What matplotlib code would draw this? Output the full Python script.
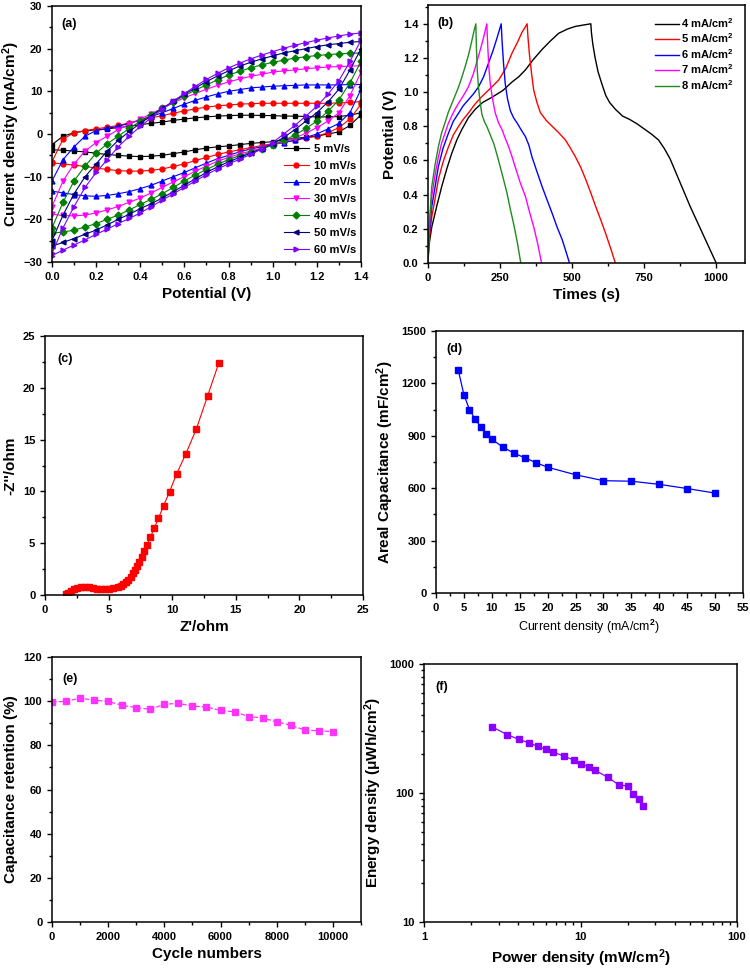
import numpy as np
import matplotlib
matplotlib.use("Agg")
import matplotlib.pyplot as plt
from matplotlib.ticker import MultipleLocator, AutoMinorLocator

plt.rcParams['font.family'] = ['Liberation Sans', 'DejaVu Sans']
plt.rcParams['font.weight'] = 'bold'
plt.rcParams['mathtext.fontset'] = 'custom'
plt.rcParams['mathtext.rm'] = 'Liberation Sans:bold'
plt.rcParams['mathtext.it'] = 'Liberation Sans:bold'
plt.rcParams['mathtext.bf'] = 'Liberation Sans:bold'
plt.rcParams['mathtext.default'] = 'rm'

# (a) CV curves, potential grid 0 -> 1.4 V step 0.05
cv_potential = [0.0, 0.05, 0.1, 0.15, 0.2, 0.25, 0.3, 0.35, 0.4, 0.45, 0.5, 0.55, 0.6, 0.65, 0.7,
                0.75, 0.8, 0.85, 0.9, 0.95, 1.0, 1.05, 1.1, 1.15, 1.2, 1.25, 1.3, 1.35, 1.4]
cv_labels = ["5 mV/s", "10 mV/s", "20 mV/s", "30 mV/s", "40 mV/s", "50 mV/s", "60 mV/s"]
cv_upper = [
    [-2.5, -0.5, 0.3, 0.7, 1.0, 1.2, 1.5, 1.8, 2.2, 2.5, 2.8, 3.2, 3.5, 3.8, 4.0,
     4.2, 4.3, 4.4, 4.4, 4.35, 4.3, 4.2, 4.2, 4.1, 4.0, 4.0, 4.1, 4.4, 5.0],
    [-6.5, -1.2, 0.3, 0.8, 1.2, 1.6, 2.0, 2.6, 3.2, 3.8, 4.3, 4.9, 5.4, 5.9, 6.3,
     6.6, 6.8, 7.0, 7.1, 7.2, 7.2, 7.2, 7.2, 7.2, 7.2, 7.2, 7.3, 7.4, 7.6],
    [-11, -6, -3, -0.5, 0.8, 1.3, 1.8, 2.5, 3.3, 4.1, 5.0, 6.0, 7.0, 7.9, 8.7,
     9.4, 10.0, 10.4, 10.8, 11.0, 11.2, 11.3, 11.4, 11.5, 11.5, 11.5, 11.5, 11.6, 11.6],
    [-17, -11, -7, -4, -2, -0.5, 1.0, 2.3, 3.5, 4.8, 6.0, 7.3, 8.5, 9.5, 10.5,
     11.4, 12.2, 12.9, 13.5, 14.0, 14.5, 14.8, 15.0, 15.3, 15.5, 15.7, 15.8, 15.9, 16.0],
    [-22, -16, -11, -7.5, -4.5, -2.3, -0.5, 1.3, 3.0, 4.5, 6.0, 7.5, 9.0, 10.3, 11.5,
     12.7, 13.8, 14.7, 15.5, 16.2, 16.8, 17.3, 17.8, 18.1, 18.4, 18.6, 18.8, 18.9, 19.0],
    [-25, -19, -14, -10, -7, -4, -1.5, 0.6, 2.5, 4.3, 6.0, 7.7, 9.3, 10.8, 12.3,
     13.6, 14.8, 15.9, 16.8, 17.6, 18.3, 19.0, 19.5, 20.0, 20.5, 20.9, 21.2, 21.5, 21.7],
    [-28, -22, -17, -12.5, -9, -6, -3, -0.5, 1.8, 3.8, 5.8, 7.7, 9.5, 11.2, 12.8,
     14.2, 15.5, 16.6, 17.6, 18.5, 19.3, 20.1, 20.8, 21.4, 22.0, 22.5, 23.0, 23.4, 23.7],
]
cv_lower = [
    [-3.7, -3.8, -4.0, -4.2, -4.5, -4.8, -5.0, -5.2, -5.3, -5.2, -5.0, -4.6, -4.2, -3.7, -3.3,
     -3.0, -2.8, -2.5, -2.2, -2.0, -1.8, -1.4, -1.0, -0.8, -0.5, 0.0, 0.5, 2.0, 4.5],
    [-6.8, -7.0, -7.3, -7.6, -8.0, -8.3, -8.6, -8.7, -8.7, -8.5, -8.2, -7.6, -7.0, -6.2, -5.5,
     -4.8, -4.2, -3.7, -3.2, -2.7, -2.3, -1.9, -1.5, -1.0, -0.5, 0.3, 1.5, 3.5, 7.0],
    [-13.4, -13.8, -14.2, -14.5, -14.6, -14.4, -14.0, -13.5, -12.8, -12.0, -11.0, -10.0, -9.0, -7.9, -6.8,
     -5.8, -5.0, -4.2, -3.5, -3.0, -2.5, -2.0, -1.5, -0.8, 0.0, 1.2, 2.5, 5.0, 10.5],
    [-18.8, -19.1, -19.2, -19.0, -18.5, -17.8, -17.0, -16.0, -15.0, -13.8, -12.5, -11.2, -10.0, -8.7, -7.5,
     -6.4, -5.5, -4.7, -4.0, -3.3, -2.6, -1.8, -1.0, 0.2, 1.5, 3.0, 5.0, 9.0, 14.5],
    [-23.2, -23.0, -22.5, -21.8, -21.0, -20.0, -19.0, -17.8, -16.5, -15.3, -14.0, -12.5, -11.0, -9.6, -8.3,
     -7.1, -6.0, -5.1, -4.3, -3.5, -2.6, -1.5, -0.3, 1.3, 3.0, 5.3, 8.0, 12.0, 17.0],
    [-26.3, -25.4, -24.5, -23.5, -22.5, -21.3, -20.0, -18.8, -17.5, -16.3, -15.0, -13.5, -12.0, -10.5, -9.0,
     -7.7, -6.5, -5.5, -4.5, -3.5, -2.3, -0.8, 1.0, 3.0, 5.0, 7.5, 10.5, 15.0, 20.0],
    [-28.5, -27.2, -26.0, -24.8, -23.5, -22.3, -21.0, -19.8, -18.5, -17.0, -15.5, -14.0, -12.5, -11.0, -9.5,
     -8.2, -7.0, -5.9, -4.8, -3.5, -2.0, 0.0, 2.0, 4.2, 6.5, 9.3, 12.5, 17.0, 22.0],
]
cv_colors = ['black', '#FF0000', '#0000FF', '#FF00FF', '#008000', '#000080', '#8000FF']
cv_markers = ['s', 'o', '^', 'v', 'D', '<', '>']

# (b) GCD curves
gcd_labels = ["4 mA/cm$^2$", "5 mA/cm$^2$", "6 mA/cm$^2$", "7 mA/cm$^2$", "8 mA/cm$^2$"]
gcd_colors = ['black', '#FF0000', '#0000FF', '#FF00FF', '#1E8C1E']
gcd_time = [
    [0, 3, 13, 30, 48, 65, 82, 100, 117, 140, 164, 190, 222, 260, 292, 315, 338, 365, 396, 425, 454,
     485, 512, 540, 565,
     567, 572, 580, 590, 603, 617, 630, 650, 675, 700, 725, 750, 775, 800, 820, 840, 860, 880,
     910, 940, 970, 1000],
    [0, 3, 13, 25, 36, 52, 71, 88, 106, 122, 140, 163, 187, 215, 245, 270, 292, 310, 326, 337, 344,
     347, 352, 360, 367, 378, 390, 410, 431, 455, 477, 495, 512, 530, 547, 565, 582, 600, 617, 635, 650],
    [0, 3, 13, 25, 36, 52, 71, 88, 106, 122, 140, 158, 175, 193, 210, 225, 240, 254,
     257, 262, 268, 276, 286, 297, 309, 323, 338, 350, 361, 378, 396, 413, 431, 448, 466, 480, 491],
    [0, 3, 13, 25, 36, 47, 59, 70, 82, 94, 106, 123, 140, 158, 175, 190, 204,
     207, 211, 216, 224, 233, 245, 257, 268, 280, 292, 303, 320, 338, 352, 367, 381, 394],
    [0, 3, 13, 25, 36, 47, 59, 70, 82, 94, 106, 118, 129, 141, 152, 160, 166,
     168, 171, 175, 181, 187, 195, 204, 216, 228, 240, 251, 262, 274, 285, 297, 310, 322],
]
gcd_volt = [
    [0.0, 0.1, 0.21, 0.33, 0.45, 0.55, 0.64, 0.72, 0.78, 0.85, 0.9, 0.94, 0.97, 1.01, 1.06, 1.09, 1.13,
     1.19, 1.25, 1.3, 1.345, 1.37, 1.385, 1.393, 1.4,
     1.35, 1.28, 1.2, 1.12, 1.05, 0.98, 0.94, 0.9, 0.86, 0.84, 0.815, 0.785, 0.755, 0.72, 0.67, 0.61,
     0.53, 0.45, 0.33, 0.22, 0.11, 0.0],
    [0.0, 0.12, 0.27, 0.38, 0.49, 0.59, 0.68, 0.75, 0.8, 0.84, 0.877, 0.93, 0.974, 1.02, 1.07, 1.14,
     1.23, 1.29, 1.35, 1.38, 1.4,
     1.32, 1.22, 1.1, 1.01, 0.94, 0.88, 0.835, 0.8, 0.76, 0.72, 0.67, 0.62, 0.56, 0.49, 0.41, 0.33,
     0.25, 0.17, 0.08, 0.0],
    [0.0, 0.14, 0.33, 0.45, 0.565, 0.67, 0.76, 0.83, 0.877, 0.92, 0.955, 0.99, 1.03, 1.09, 1.17, 1.24,
     1.32, 1.4,
     1.3, 1.17, 1.05, 0.96, 0.89, 0.85, 0.82, 0.78, 0.74, 0.69, 0.62, 0.535, 0.447, 0.37, 0.29, 0.21,
     0.135, 0.06, 0.0],
    [0.0, 0.16, 0.39, 0.52, 0.62, 0.7, 0.76, 0.815, 0.86, 0.9, 0.935, 0.98, 1.03, 1.11, 1.21, 1.3, 1.4,
     1.28, 1.15, 1.05, 0.96, 0.88, 0.82, 0.78, 0.73, 0.68, 0.62, 0.56, 0.47, 0.39, 0.3, 0.21, 0.11, 0.0],
    [0.0, 0.18, 0.447, 0.58, 0.68, 0.76, 0.82, 0.88, 0.93, 0.98, 1.03, 1.09, 1.15, 1.22, 1.3, 1.36, 1.4,
     1.26, 1.13, 1.03, 0.94, 0.87, 0.83, 0.8, 0.75, 0.7, 0.63, 0.56, 0.49, 0.41, 0.32, 0.23, 0.12, 0.0],
]

# (c) Nyquist
z_real = [1.68, 1.84, 2.02, 2.28, 2.55, 2.86, 3.18, 3.49, 3.8, 4.12, 4.44, 4.75, 5.07, 5.38, 5.7,
          5.96, 6.17, 6.38, 6.56, 6.75, 6.9, 7.06, 7.22, 7.4, 7.59, 7.8, 8.03, 8.29, 8.58, 8.92,
          9.32, 9.79, 10.34, 11.05, 11.89, 12.78, 13.65]
z_imag = [0.06, 0.23, 0.42, 0.61, 0.71, 0.77, 0.8, 0.77, 0.68, 0.58, 0.55, 0.58, 0.61, 0.68, 0.77,
          0.9, 1.06, 1.25, 1.48, 1.77, 2.09, 2.41, 2.8, 3.22, 3.7, 4.24, 4.82, 5.6, 6.43, 7.4,
          8.62, 9.97, 11.67, 13.57, 16.0, 19.2, 22.35]

# (d) areal capacitance
current_density = [4, 5, 6, 7, 8, 9, 10, 12, 14, 16, 18, 20, 25, 30, 35, 40, 45, 50]
areal_cap = [1275, 1135, 1050, 995, 953, 910, 880, 835, 800, 773, 745, 720, 677, 643, 640, 622, 598, 572]

# (e) cycling
cycles = [0, 500, 1000, 1500, 2000, 2500, 3000, 3500, 4000, 4500, 5000, 5500, 6000, 6500, 7000,
          7500, 8000, 8500, 9000, 9500, 10000]
retention = [99.6, 99.9, 101.4, 100.4, 99.9, 98.1, 97.1, 96.3, 98.6, 99.0, 97.8, 97.4, 95.8, 95.2, 93.0,
             92.4, 90.6, 89.1, 86.9, 86.6, 86.2]

# (f) Ragone
power_density = [2.72, 3.39, 4.05, 4.69, 5.32, 5.99, 6.67, 7.85, 9.04, 10.1, 11.3, 12.4, 15.0, 17.5,
                 20.1, 21.6, 23.7, 25.2]
energy_density = [326, 284, 260, 245, 230, 218, 208, 193, 180, 169, 159, 150, 132, 116, 113, 98.6, 89.6, 79]

W, H = 750, 968
fig = plt.figure(figsize=(W / 100, H / 100), dpi=100)


def box(l, t, r, b):
    return fig.add_axes([l / W, 1 - b / H, (r - l) / W, (b - t) / H])


def style(ax, minor=True):
    ax.tick_params(which='both', direction='out', top=False, right=False, labelsize=8, width=1)
    ax.tick_params(which='major', length=3.5)
    ax.tick_params(which='minor', length=2)
    for s in ax.spines.values():
        s.set_linewidth(1.1)
    if minor:
        ax.xaxis.set_minor_locator(AutoMinorLocator(2))
        ax.yaxis.set_minor_locator(AutoMinorLocator(2))
    for lab in ax.get_xticklabels() + ax.get_yticklabels():
        lab.set_fontweight('bold')


lab_kw = dict(fontsize=11, fontweight='bold')
tag_kw = dict(fontsize=9, fontweight='bold', va='top')

# (a)
ax = box(52, 6, 361, 262)
for i in range(len(cv_labels)):
    xs = cv_potential + cv_potential[::-1]
    ys = cv_upper[i] + cv_lower[i][::-1]
    ax.plot(xs, ys, color=cv_colors[i], marker=cv_markers[i], ms=3.5, lw=0.8, label=cv_labels[i])
ax.set_xlim(0, 1.4)
ax.set_ylim(-30, 30)
ax.xaxis.set_major_locator(MultipleLocator(0.2))
ax.yaxis.set_major_locator(MultipleLocator(10))
style(ax)
ax.set_xlabel("Potential (V)", **lab_kw)
ax.set_ylabel("Current density (mA/cm$^2$)", labelpad=1, **lab_kw)
ax.text(0.03, 0.955, "(a)", transform=ax.transAxes, **tag_kw)
ax.legend(loc='lower right', frameon=False, prop=dict(size=8, weight='bold'), handlelength=2.2,
          labelspacing=0.62, borderaxespad=0.0, handletextpad=0.5, bbox_to_anchor=(1.0, 0.01))

# (b)
ax = box(428, 5, 745, 263)
for i in range(len(gcd_labels)):
    ax.plot(gcd_time[i], gcd_volt[i], color=gcd_colors[i], lw=1.0, label=gcd_labels[i])
ax.set_xlim(0, 1100)
ax.set_ylim(0, 1.51)
ax.xaxis.set_major_locator(MultipleLocator(250))
ax.yaxis.set_major_locator(MultipleLocator(0.2))
style(ax)
ax.set_xlabel("Times (s)", **lab_kw)
ax.set_ylabel("Potential (V)", **lab_kw)
ax.text(0.03, 0.955, "(b)", transform=ax.transAxes, **tag_kw)
ax.legend(loc='upper right', frameon=False, prop=dict(size=8, weight='bold'), handlelength=2.2,
          labelspacing=0.15, borderaxespad=0.6, handletextpad=0.2)

# (c)
ax = box(45, 336, 363, 595)
ax.plot(z_real, z_imag, color='#FF0000', marker='s', ms=4.5, lw=0.8)
ax.set_xlim(0, 25)
ax.set_ylim(0, 25)
ax.xaxis.set_major_locator(MultipleLocator(5))
ax.yaxis.set_major_locator(MultipleLocator(5))
style(ax)
ax.set_xlabel("Z'/ohm", **lab_kw)
ax.set_ylabel("-Z''/ohm", **lab_kw)
ax.text(0.04, 0.935, "(c)", transform=ax.transAxes, **tag_kw)

# (d)
ax = box(436, 331, 743, 593)
ax.plot(current_density, areal_cap, color='#0000FF', marker='s', ms=5, lw=0.9)
ax.set_xlim(0, 55)
ax.set_ylim(0, 1500)
ax.xaxis.set_major_locator(MultipleLocator(5))
ax.yaxis.set_major_locator(MultipleLocator(300))
style(ax)
ax.set_xlabel("Current density (mA/cm$^2$)", fontsize=9, fontweight='normal')
ax.set_ylabel("Areal Capacitance (mF/cm$^2$)", **lab_kw)
ax.text(0.035, 0.955, "(d)", transform=ax.transAxes, **tag_kw)

# (e)
ax = box(52, 657, 361, 922)
ax.plot(cycles, retention, color='#FF33FF', marker='s', ms=4.5, lw=0.9, ls='--')
ax.set_xlim(0, 11000)
ax.set_ylim(0, 120)
ax.xaxis.set_major_locator(MultipleLocator(2000))
ax.yaxis.set_major_locator(MultipleLocator(20))
style(ax)
ax.set_xlabel("Cycle numbers", **lab_kw)
ax.set_ylabel("Capacitance retention (%)", **lab_kw)
ax.text(0.035, 0.94, "(e)", transform=ax.transAxes, **tag_kw)

# (f)
ax = box(424, 664, 737, 922)
ax.plot(power_density, energy_density, color='#8B00FF', marker='s', ms=5, lw=0.9)
ax.set_xscale('log')
ax.set_yscale('log')
ax.set_xlim(1, 100)
ax.set_ylim(10, 1000)
style(ax, minor=False)
ax.set_xticks([1, 10, 100])
ax.set_xticklabels(["1", "10", "100"])
ax.set_yticks([10, 100, 1000])
ax.set_yticklabels(["10", "100", "1000"])
for lab in ax.get_xticklabels() + ax.get_yticklabels():
    lab.set_fontweight('bold')
ax.set_xlabel("Power density (mW/cm$^2$)", **lab_kw)
ax.set_ylabel("Energy density (\u03bcWh/cm$^2$)", **lab_kw)
ax.text(0.035, 0.935, "(f)", transform=ax.transAxes, **tag_kw)

fig.savefig("out.png", dpi=100)
